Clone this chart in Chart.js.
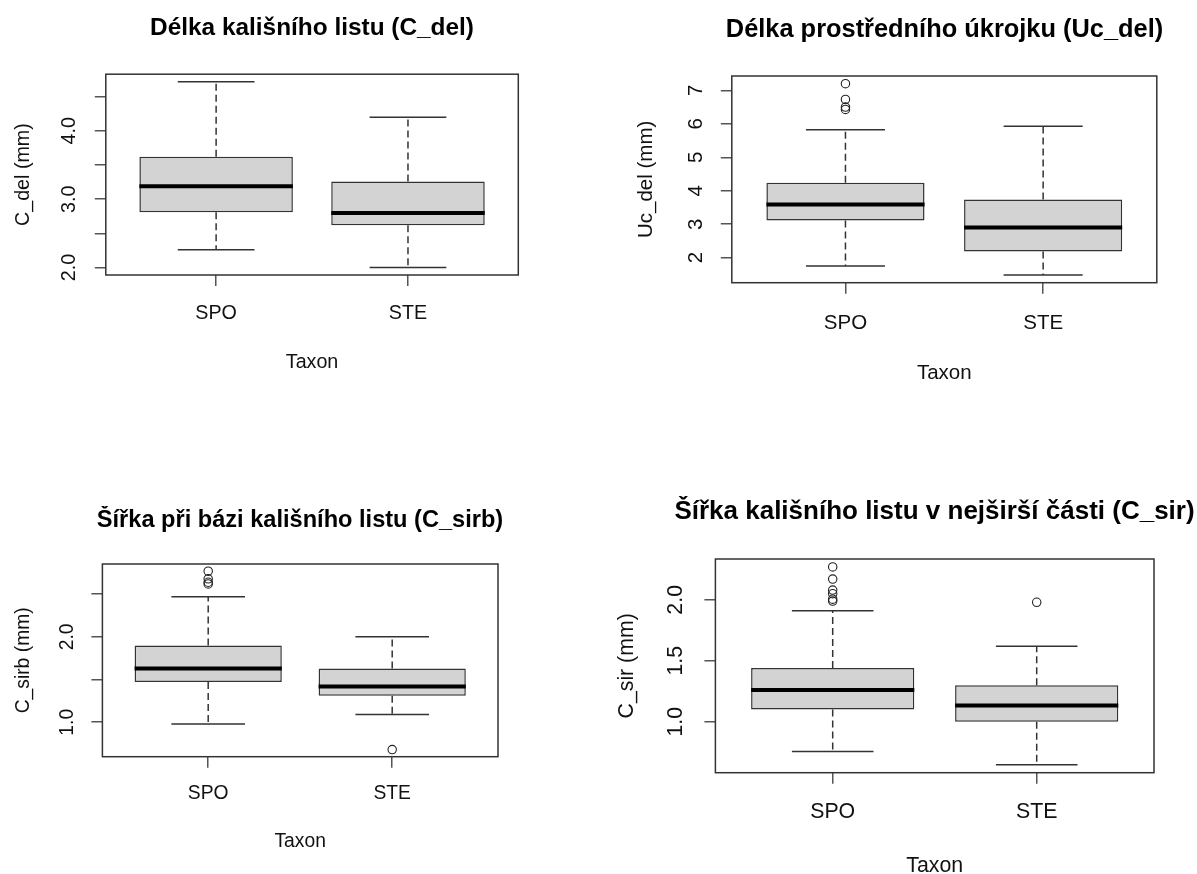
<!DOCTYPE html>
<html>
<head>
<meta charset="utf-8">
<script src="https://cdn.jsdelivr.net/npm/chart.js@4.4.1/dist/chart.umd.min.js"></script>
<style>
  html, body { margin: 0; padding: 0; background: #fff; overflow: hidden; width: 1197px; height: 874px; }
  canvas { position: absolute; }
</style>
</head>
<body>
<canvas id="cDelChart"></canvas>
<canvas id="ucDelChart"></canvas>
<canvas id="cSirbChart"></canvas>
<canvas id="cSirChart"></canvas>
<script>
const taxa = ['SPO', 'STE'];

// Délka kališního listu (C_del)
const cDelLower = [2.26, 2.00];
const cDelQ1 = [2.81, 2.62];
const cDelMedian = [3.19, 2.80];
const cDelQ3 = [3.62, 3.26];
const cDelUpper = [4.72, 4.20];
const cDelOutliers = [[], []];
const cDelTicks = [2.0, 2.5, 3.0, 3.5, 4.0, 4.5];
const cDelTickLabels = ['2.0', '', '3.0', '', '4.0', ''];

// Délka prostředního úkrojku (Uc_del)
const ucDelLower = [1.75, 1.48];
const ucDelQ1 = [3.11, 2.18];
const ucDelMedian = [3.59, 2.90];
const ucDelQ3 = [4.24, 3.74];
const ucDelUpper = [5.82, 5.93];
const ucDelOutliers = [[6.43, 6.50, 6.73, 7.20], []];
const ucDelTicks = [2, 3, 4, 5, 6, 7];
const ucDelTickLabels = ['2', '3', '4', '5', '6', '7'];

// Šířka při bázi kališního listu (C_sirb)
const cSirbLower = [0.98, 1.09];
const cSirbQ1 = [1.47, 1.31];
const cSirbMedian = [1.63, 1.42];
const cSirbQ3 = [1.90, 1.63];
const cSirbUpper = [2.47, 2.00];
const cSirbOutliers = [[2.62, 2.64, 2.68, 2.77], [0.68]];
const cSirbTicks = [1.0, 1.5, 2.0, 2.5];
const cSirbTickLabels = ['1.0', '', '2.0', ''];

// Šířka kališního listu v nejširší části (C_sir)
const cSirLower = [0.756, 0.647];
const cSirQ1 = [1.10, 1.00];
const cSirMedian = [1.26, 1.134];
const cSirQ3 = [1.44, 1.30];
const cSirUpper = [1.91, 1.62];
const cSirOutliers = [[1.99, 2.005, 2.05, 2.08, 2.17, 2.27], [1.98]];
const cSirTicks = [1.0, 1.5, 2.0];
const cSirTickLabels = ['1.0', '1.5', '2.0'];

const FONT = "'Liberation Sans', Arial, sans-serif";
const TICK_LEN = 11;
const TEXT_COLOR = '#111';
const X_MIN = 0.425;
const X_MAX = 2.575;

// plot-region placement of each panel on the page
const panels = {
    cDel: { frame: { l: 105.8, t: 74.2, r: 518.3, b: 275 }, titleY: 28.5, xLabelY: 313.5, xTitleY: 363, yTickX: 69.3, yTitleX: 23.7, labelSize: 19.7, titleSize: 24.4 },
    ucDel: { frame: { l: 731.8, t: 76, r: 1156.8, b: 282.7 }, titleY: 30.5, xLabelY: 323.5, xTitleY: 373.5, yTickX: 696.8, yTitleX: 646.8, labelSize: 20.5, titleSize: 25.4 },
    cSirb: { frame: { l: 102.4, t: 564, r: 498, b: 756.7 }, titleY: 520.5, xLabelY: 793.8, xTitleY: 841.5, yTickX: 67.6, yTitleX: 23.7, labelSize: 19.3, titleSize: 23.6 },
    cSir: { frame: { l: 715.4, t: 559, r: 1154, b: 772.7 }, titleY: 511.5, xLabelY: 812.5, xTitleY: 866, yTickX: 676, yTitleX: 626.7, labelSize: 21.3, titleSize: 26.0 }
};

function boxParts(stats, ticks, tickLabels, tickX, labelSize) {
    return {
        id: 'boxParts',
        beforeDatasetsDraw(chart) {
            const { ctx, scales: { x, y } } = chart;
            const unit = x.getPixelForValue(2) - x.getPixelForValue(1);
            ctx.save();
            ctx.strokeStyle = '#333';
            ctx.lineWidth = 1.5;
            taxa.forEach((t, i) => {
                const cx = x.getPixelForValue(i + 1);
                ctx.setLineDash([7, 4]);
                ctx.beginPath();
                ctx.moveTo(cx, y.getPixelForValue(stats.q3[i]));
                ctx.lineTo(cx, y.getPixelForValue(stats.upper[i]));
                ctx.moveTo(cx, y.getPixelForValue(stats.q1[i]));
                ctx.lineTo(cx, y.getPixelForValue(stats.lower[i]));
                ctx.stroke();
                ctx.setLineDash([]);
                ctx.beginPath();
                [stats.upper[i], stats.lower[i]].forEach(v => {
                    const py = y.getPixelForValue(v);
                    ctx.moveTo(cx - unit * 0.2, py);
                    ctx.lineTo(cx + unit * 0.2, py);
                });
                ctx.stroke();
            });
            ctx.restore();
        },
        afterDatasetsDraw(chart) {
            const { ctx, scales: { x, y } } = chart;
            const unit = x.getPixelForValue(2) - x.getPixelForValue(1);
            ctx.save();
            ctx.strokeStyle = '#000';
            ctx.lineWidth = 4;
            taxa.forEach((t, i) => {
                const cx = x.getPixelForValue(i + 1);
                const py = y.getPixelForValue(stats.median[i]);
                ctx.beginPath();
                ctx.moveTo(cx - unit * 0.4, py);
                ctx.lineTo(cx + unit * 0.4, py);
                ctx.stroke();
            });
            ctx.restore();
        },
        afterDraw(chart) {
            const { ctx, chartArea: a, scales: { y } } = chart;
            ctx.save();
            ctx.strokeStyle = '#333';
            ctx.lineWidth = 1.5;
            ctx.strokeRect(a.left, a.top, a.right - a.left, a.bottom - a.top);
            // R draws y tick labels parallel to the axis
            ctx.fillStyle = TEXT_COLOR;
            ctx.font = labelSize + 'px ' + FONT;
            ctx.textAlign = 'center';
            ctx.textBaseline = 'middle';
            ticks.forEach((v, i) => {
                if (!tickLabels[i]) return;
                ctx.save();
                ctx.translate(tickX, y.getPixelForValue(v));
                ctx.rotate(-Math.PI / 2);
                ctx.fillText(tickLabels[i], 0, 0);
                ctx.restore();
            });
            ctx.restore();
        }
    };
}

function renderBoxplot(canvasId, panel, title, yTitle, stats, ticks, tickLabels) {
    const labelLH = panel.labelSize * 1.2;
    const titleLH = panel.titleSize * 1.2;
    const f = panel.frame;
    const x0 = Math.round(panel.yTitleX - 18);
    const y0 = Math.round(panel.titleY - titleLH / 2);
    const margin = f.l - x0;
    const x1 = Math.round(f.r + margin);
    const y1 = Math.round(panel.xTitleY + 18);

    const canvas = document.getElementById(canvasId);
    canvas.width = x1 - x0;
    canvas.height = y1 - y0;
    canvas.style.left = x0 + 'px';
    canvas.style.top = y0 + 'px';

    // y range as in R: data range extended by 4 %
    const all = stats.lower.concat(stats.upper, stats.outliers.flat());
    const lo = Math.min(...all);
    const hi = Math.max(...all);
    const ext = (hi - lo) * 0.04;

    const boxData = taxa.map((t, i) => ({ x: i + 1, y: [stats.q1[i], stats.q3[i]] }));
    const outlierData = [];
    stats.outliers.forEach((list, i) => list.forEach(v => outlierData.push({ x: i + 1, y: v })));

    const labelFont = { family: FONT, size: panel.labelSize };

    new Chart(canvas, {
        type: 'bar',
        data: {
            datasets: [{
                type: 'bar',
                data: boxData,
                backgroundColor: '#d3d3d3',
                borderColor: '#333',
                borderWidth: 1.5,
                borderSkipped: false,
                barPercentage: 0.8,
                categoryPercentage: 1.0
            }, {
                type: 'scatter',
                data: outlierData,
                pointRadius: 4.2,
                pointBorderWidth: 1.1,
                pointBorderColor: '#222',
                pointBackgroundColor: 'rgba(0, 0, 0, 0)'
            }]
        },
        options: {
            responsive: false,
            animation: false,
            layout: { padding: 0 },
            plugins: {
                legend: { display: false },
                tooltip: { enabled: false },
                title: {
                    display: true,
                    text: title,
                    color: '#000',
                    font: { family: FONT, size: panel.titleSize, weight: 'bold' },
                    padding: { top: 0, bottom: f.t - y0 - titleLH }
                }
            },
            scales: {
                x: {
                    type: 'linear',
                    min: X_MIN,
                    max: X_MAX,
                    offset: false,
                    afterBuildTicks: s => { s.ticks = taxa.map((t, i) => ({ value: i + 1 })); },
                    afterFit: s => { s.height = y1 - f.b; },
                    grid: { drawOnChartArea: false, drawTicks: true, tickLength: TICK_LEN, color: '#555', lineWidth: 1.5, offset: false },
                    border: { display: false },
                    ticks: {
                        autoSkip: false,
                        maxRotation: 0,
                        padding: panel.xLabelY - f.b - TICK_LEN - labelLH / 2,
                        color: TEXT_COLOR,
                        font: labelFont,
                        callback: v => taxa[v - 1]
                    },
                    title: {
                        display: true,
                        text: 'Taxon',
                        color: TEXT_COLOR,
                        font: labelFont,
                        padding: { top: 0, bottom: y1 - panel.xTitleY - labelLH / 2 }
                    }
                },
                y: {
                    type: 'linear',
                    min: lo - ext,
                    max: hi + ext,
                    afterBuildTicks: s => { s.ticks = ticks.map(v => ({ value: v })); },
                    afterFit: s => { s.width = margin; },
                    grid: { drawOnChartArea: false, drawTicks: true, tickLength: TICK_LEN, color: '#555', lineWidth: 1.5 },
                    border: { display: false },
                    ticks: { display: false },
                    title: {
                        display: true,
                        text: yTitle,
                        color: TEXT_COLOR,
                        font: labelFont,
                        padding: { top: panel.yTitleX - x0 - labelLH / 2, bottom: 0 }
                    }
                },
                // empty right margin so the full-width title centres on the plot region
                yRight: {
                    type: 'linear',
                    position: 'right',
                    afterFit: s => { s.width = x1 - x0 - margin - (f.r - f.l); },
                    grid: { display: false },
                    border: { display: false },
                    ticks: { display: false }
                }
            }
        },
        plugins: [boxParts(stats, ticks, tickLabels, panel.yTickX - x0, panel.labelSize)]
    });
}

renderBoxplot('cDelChart', panels.cDel, 'Délka kališního listu (C_del)', 'C_del (mm)',
    { lower: cDelLower, q1: cDelQ1, median: cDelMedian, q3: cDelQ3, upper: cDelUpper, outliers: cDelOutliers },
    cDelTicks, cDelTickLabels);

renderBoxplot('ucDelChart', panels.ucDel, 'Délka prostředního úkrojku (Uc_del)', 'Uc_del (mm)',
    { lower: ucDelLower, q1: ucDelQ1, median: ucDelMedian, q3: ucDelQ3, upper: ucDelUpper, outliers: ucDelOutliers },
    ucDelTicks, ucDelTickLabels);

renderBoxplot('cSirbChart', panels.cSirb, 'Šířka při bázi kališního listu (C_sirb)', 'C_sirb (mm)',
    { lower: cSirbLower, q1: cSirbQ1, median: cSirbMedian, q3: cSirbQ3, upper: cSirbUpper, outliers: cSirbOutliers },
    cSirbTicks, cSirbTickLabels);

renderBoxplot('cSirChart', panels.cSir, 'Šířka kališního listu v nejširší části (C_sir)', 'C_sir (mm)',
    { lower: cSirLower, q1: cSirQ1, median: cSirMedian, q3: cSirQ3, upper: cSirUpper, outliers: cSirOutliers },
    cSirTicks, cSirTickLabels);
</script>
</body>
</html>
